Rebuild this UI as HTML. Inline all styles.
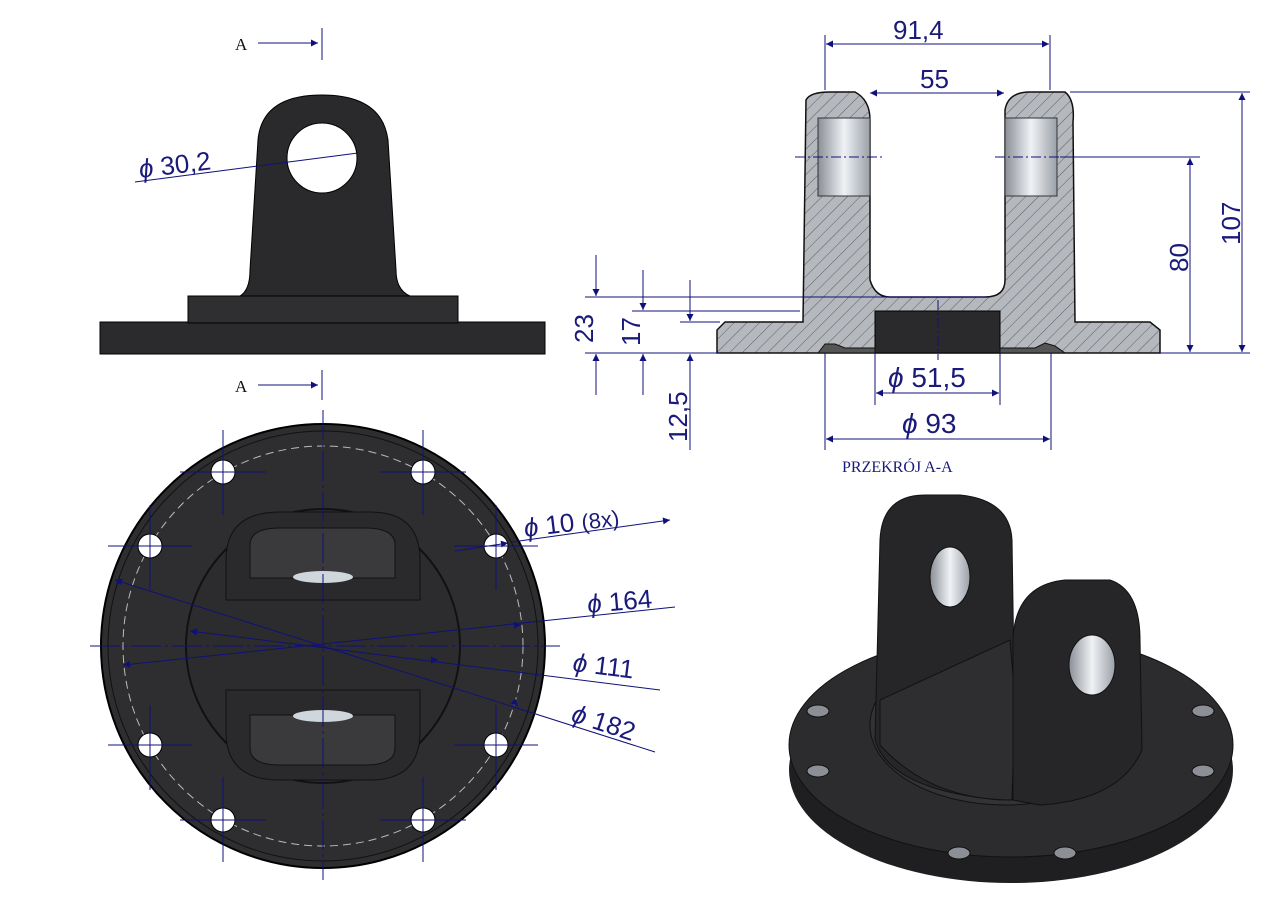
<!DOCTYPE html>
<html><head><meta charset="utf-8"><style>
body{margin:0;background:#fff}
svg{display:block}
text{font-family:"Liberation Sans",sans-serif;fill:#1a1a7a}
.s{font-family:"Liberation Serif",serif}
</style></head><body>
<svg width="1280" height="905" viewBox="0 0 1280 905" xmlns="http://www.w3.org/2000/svg">
<defs>
<pattern id="h" width="9" height="9" patternUnits="userSpaceOnUse" patternTransform="rotate(45)">
<rect width="9" height="9" fill="#b5b8bd"/><line x1="0" y1="0" x2="0" y2="9" stroke="#5a5d63" stroke-width="1"/></pattern>
<marker id="a" viewBox="0 0 10 10" refX="10" refY="5" markerWidth="16" markerHeight="7" orient="auto-start-reverse" markerUnits="userSpaceOnUse"><path d="M0,0L10,5L0,10z" fill="#10107a"/></marker>
<linearGradient id="m" x1="0" x2="1"><stop offset="0" stop-color="#8a8f96"/><stop offset=".5" stop-color="#f0f2f5"/><stop offset="1" stop-color="#9aa0a8"/></linearGradient>
</defs>
<g stroke="#10107a" stroke-width="1" fill="none">
<line x1="258" y1="43" x2="318" y2="43" marker-end="url(#a)"/><line x1="322" y1="28" x2="322" y2="60"/>
<line x1="258" y1="385" x2="318" y2="385" marker-end="url(#a)"/><line x1="322" y1="370" x2="322" y2="400"/>
</g>
<text class="s" x="235" y="50" font-size="17" style="fill:#111">A</text>
<text class="s" x="235" y="392" font-size="17" style="fill:#111">A</text>
<rect x="100" y="322" width="445" height="32" fill="#2b2b2d" stroke="#000"/>
<rect x="188" y="296" width="270" height="27" fill="#2f2f31" stroke="#000"/>
<path d="M240,296 Q250,290 250,270 L258,140 Q262,95 322,95 Q382,95 388,140 L396,270 Q396,290 410,296 Z" fill="#2a2a2c" stroke="#000"/>
<circle cx="322" cy="158" r="35" fill="#fff" stroke="#000"/>
<line x1="135" y1="182" x2="358" y2="153" stroke="#10107a"/>
<text x="140" y="178" font-size="26" transform="rotate(-7 140 178)"><tspan font-style="italic">ϕ</tspan> 30,2</text>

<!-- Section -->
<path d="M717,353 L717,330 L725,322 L803,322 L806,100 Q810,92 830,92 L855,92 Q870,100 870,120 L870,280 Q875,297 890,297 L985,297 Q1005,297 1005,280 L1005,110 Q1008,92 1030,92 L1065,92 Q1075,100 1073,122 L1075,322 L1150,322 L1160,330 L1160,353 Z" fill="url(#h)" stroke="#111" stroke-width="1.5"/>
<rect x="818" y="118" width="52" height="78" fill="url(#m)" stroke="#333"/>
<rect x="1005" y="118" width="52" height="78" fill="url(#m)" stroke="#333"/>
<rect x="875" y="311" width="125" height="42" fill="#2a2a2c" stroke="#000"/>
<path d="M818,353 L825,344 L835,344 L845,348 L875,348 L875,353Z M1000,353 L1000,348 L1035,348 L1045,343 L1055,346 L1065,353Z" fill="#555" stroke="#111"/>
<g stroke="#10107a" stroke-width="1" fill="none">
<line x1="825" y1="35" x2="825" y2="90"/><line x1="1050" y1="35" x2="1050" y2="90"/>
<line x1="826" y1="44" x2="1049" y2="44" marker-start="url(#a)" marker-end="url(#a)"/>
<line x1="870" y1="93" x2="1004" y2="93" marker-start="url(#a)" marker-end="url(#a)"/>
<line x1="1070" y1="92" x2="1250" y2="92"/><line x1="1060" y1="157" x2="1200" y2="157"/>
<line x1="1160" y1="353" x2="1250" y2="353"/>
<line x1="1242" y1="93" x2="1242" y2="352" marker-start="url(#a)" marker-end="url(#a)"/>
<line x1="1190" y1="158" x2="1190" y2="352" marker-start="url(#a)" marker-end="url(#a)"/>
<line x1="795" y1="157" x2="885" y2="157" stroke-dasharray="10,3,2,3"/><line x1="995" y1="157" x2="1060" y2="157" stroke-dasharray="10,3,2,3"/>
<line x1="585" y1="297" x2="985" y2="297"/><line x1="632" y1="311" x2="800" y2="311"/><line x1="680" y1="322" x2="720" y2="322"/>
<line x1="585" y1="353" x2="720" y2="353"/>
<line x1="596" y1="255" x2="596" y2="296" marker-end="url(#a)"/><line x1="596" y1="395" x2="596" y2="354" marker-end="url(#a)"/>
<line x1="643" y1="270" x2="643" y2="310" marker-end="url(#a)"/><line x1="643" y1="395" x2="643" y2="354" marker-end="url(#a)"/>
<line x1="690" y1="280" x2="690" y2="321" marker-end="url(#a)"/><line x1="690" y1="450" x2="690" y2="354" marker-end="url(#a)"/>
<line x1="875" y1="353" x2="875" y2="405"/><line x1="1000" y1="353" x2="1000" y2="405"/>
<line x1="876" y1="393" x2="999" y2="393" marker-start="url(#a)" marker-end="url(#a)"/>
<line x1="825" y1="353" x2="825" y2="450"/><line x1="1051" y1="353" x2="1051" y2="450"/>
<line x1="826" y1="439" x2="1050" y2="439" marker-start="url(#a)" marker-end="url(#a)"/>
<line x1="938" y1="300" x2="938" y2="360" stroke-dasharray="10,3,2,3"/>
</g>
<text x="893" y="39" font-size="26">91,4</text>
<text x="920" y="88" font-size="26">55</text>
<text x="1240" y="245" font-size="26" transform="rotate(-90 1240 245)">107</text>
<text x="1188" y="272" font-size="26" transform="rotate(-90 1188 272)">80</text>
<text x="593" y="343" font-size="26" transform="rotate(-90 593 343)">23</text>
<text x="640" y="346" font-size="26" transform="rotate(-90 640 346)">17</text>
<text x="687" y="442" font-size="26" transform="rotate(-90 687 442)">12,5</text>
<text x="888" y="387" font-size="28"><tspan font-style="italic">ϕ</tspan> 51,5</text>
<text x="902" y="433" font-size="28"><tspan font-style="italic">ϕ</tspan> 93</text>
<text class="s" x="842" y="472" font-size="16">PRZEKRÓJ A-A</text>

<!-- Bottom view -->
<circle cx="323" cy="646" r="222" fill="#2e2e30" stroke="#000" stroke-width="2"/>
<circle cx="323" cy="646" r="215" fill="none" stroke="#111"/>
<circle cx="323" cy="646" r="200" fill="none" stroke="#bbb" stroke-dasharray="8,5"/>
<circle cx="323" cy="646" r="137" fill="#2c2c2e" stroke="#111" stroke-width="2"/>
<path d="M226,600 L226,560 Q226,512 280,512 L370,512 Q420,512 420,560 L420,600 Z" fill="#2a2a2c" stroke="#111"/>
<path d="M250,578 L250,545 Q250,528 280,528 L365,528 Q395,528 395,545 L395,578Z" fill="#3a3a3c" stroke="#111"/>
<ellipse cx="323" cy="577" rx="30" ry="6" fill="#cfd6dc"/>
<path d="M226,690 L226,732 Q226,780 280,780 L370,780 Q420,780 420,732 L420,690Z" fill="#2a2a2c" stroke="#111"/>
<path d="M250,715 L250,748 Q250,765 280,765 L365,765 Q395,765 395,748 L395,715Z" fill="#3a3a3c" stroke="#111"/>
<ellipse cx="323" cy="716" rx="30" ry="6" fill="#cfd6dc"/>
<g fill="#fff" stroke="#000">
<circle cx="223" cy="472" r="12"/><circle cx="423" cy="472" r="12"/><circle cx="150" cy="546" r="12"/><circle cx="496" cy="546" r="12"/>
<circle cx="150" cy="745" r="12"/><circle cx="496" cy="745" r="12"/><circle cx="223" cy="820" r="12"/><circle cx="423" cy="820" r="12"/>
</g>
<g stroke="#10107a" stroke-width="1" fill="none">
<line x1="323" y1="410" x2="323" y2="880" stroke-dasharray="30,4,3,4"/>
<line x1="90" y1="646" x2="560" y2="646" stroke-dasharray="30,4,3,4"/>
<path d="M223,430V515M180,472H266M423,430V515M380,472H466M150,505V590M108,546H192M496,505V590M454,546H538M150,705V790M108,745H192M496,705V790M454,745H538M223,777V862M180,820H266M423,777V862M380,820H466"/>
<line x1="455" y1="551" x2="508" y2="543" marker-end="url(#a)"/>
<line x1="670" y1="520" x2="512" y2="542" marker-start="url(#a)"/>
<line x1="115" y1="580" x2="655" y2="752" marker-start="url(#a)"/>
<line x1="517" y1="705" x2="518" y2="706" marker-end="url(#a)"/>
<line x1="190" y1="631" x2="660" y2="690" marker-start="url(#a)"/>
<line x1="437" y1="660" x2="438" y2="660" marker-end="url(#a)"/>
<line x1="123" y1="665" x2="675" y2="607" marker-start="url(#a)"/>
<line x1="520" y1="625" x2="521" y2="625" marker-end="url(#a)"/>
</g>
<text x="525" y="537" font-size="26" transform="rotate(-7 525 537)"><tspan font-style="italic">ϕ</tspan> 10 <tspan font-size="22">(8x)</tspan></text>
<text x="588" y="613" font-size="26" transform="rotate(-5 588 613)"><tspan font-style="italic">ϕ</tspan> 164</text>
<text x="572" y="671" font-size="26" transform="rotate(7 572 671)"><tspan font-style="italic">ϕ</tspan> 111</text>
<text x="570" y="721" font-size="26" transform="rotate(18 570 721)"><tspan font-style="italic">ϕ</tspan> 182</text>

<!-- Iso view -->
<ellipse cx="1011" cy="770" rx="222" ry="113" fill="#1f1f21"/>
<ellipse cx="1011" cy="745" rx="222" ry="112" fill="#2c2c2e" stroke="#111"/>
<ellipse cx="1005" cy="725" rx="135" ry="80" fill="#333335" stroke="#111"/>
<path d="M875,740 L880,540 Q882,495 925,495 L960,495 Q1010,500 1012,540 L1015,740 L1000,800 Q890,790 875,740Z" fill="#262628" stroke="#111"/>
<path d="M880,700 L1010,640 L1015,700 L1012,800 Q930,800 880,745Z" fill="#2e2e30" stroke="#111"/>
<path d="M1013,800 L1013,640 Q1015,585 1065,580 L1110,580 Q1140,590 1140,640 L1142,750 Q1120,800 1040,805Z" fill="#262628" stroke="#111"/>
<ellipse cx="950" cy="577" rx="20" ry="30" fill="url(#m)" stroke="#111"/>
<ellipse cx="1092" cy="665" rx="23" ry="30" fill="url(#m)" stroke="#111"/>
<g fill="#8c9096" stroke="#111">
<ellipse cx="818" cy="711" rx="11" ry="6"/><ellipse cx="818" cy="771" rx="11" ry="6"/><ellipse cx="959" cy="853" rx="11" ry="6"/><ellipse cx="1065" cy="853" rx="11" ry="6"/>
<ellipse cx="1203" cy="711" rx="11" ry="6"/><ellipse cx="1203" cy="771" rx="11" ry="6"/>
</g>
</svg>
</body></html>
